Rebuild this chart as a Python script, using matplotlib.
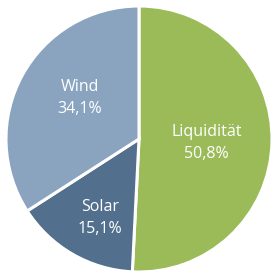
import matplotlib
matplotlib.use("Agg")
import matplotlib.pyplot as plt
import numpy as np

labels = ["Liquidität", "Solar", "Wind"]
values = [50.8, 15.1, 34.1]
colors = ["#9bbb59", "#536f8e", "#8aa4c0"]
label_radius = [0.51, 0.66, 0.54]
label_angle_shift = [-2.0, 3.7, -5.8]

plt.rcParams['font.family'] = ['Open Sans', 'DejaVu Sans']

fig = plt.figure(figsize=(2.72, 2.76), dpi=100)
cx, cy, r = 139, 139, 133
W, H = 272, 276
ax = fig.add_axes([(cx - r) / W, (H - cy - r) / H, 2 * r / W, 2 * r / H])
wedges, _ = ax.pie(values, colors=colors, startangle=90, counterclock=False,
                   wedgeprops=dict(edgecolor="white", linewidth=2.2))
ax.set_xlim(-1, 1)
ax.set_ylim(-1, 1)
ax.set_aspect('auto')
ax.axis('off')

for w, lab, v, lr, da in zip(wedges, labels, values, label_radius, label_angle_shift):
    ang = np.deg2rad((w.theta1 + w.theta2) / 2 + da)
    x, y = lr * np.cos(ang), lr * np.sin(ang)
    txt = f"{lab}\n{v:.1f}%".replace(".", ",")
    ax.text(x, y, txt, ha="center", va="center", color="white",
            fontsize=11.5, linespacing=1.5)

fig.savefig("out.png", dpi=100)
